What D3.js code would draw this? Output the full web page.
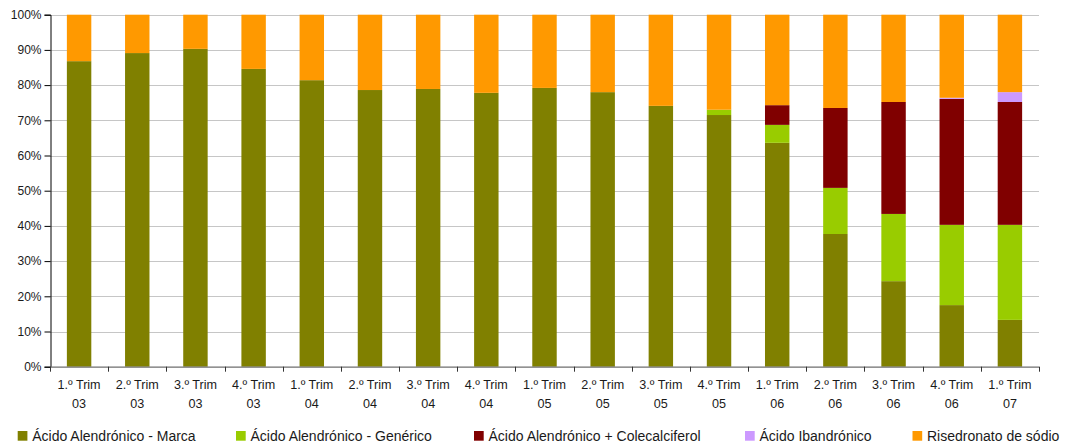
<!DOCTYPE html>
<html>
<head>
<meta charset="utf-8">
<script src="https://cdn.jsdelivr.net/npm/d3@7"></script>
<style>
  html, body { margin: 0; padding: 0; background: #fff; }
  svg { display: block; font-family: "Liberation Sans", Arial, sans-serif; }
</style>
</head>
<body>
<svg id="chart" width="1069" height="444"></svg>
<script>
// Quarter labels (two lines each)
const quarters = ["1.º Trim", "2.º Trim", "3.º Trim", "4.º Trim", "1.º Trim", "2.º Trim", "3.º Trim", "4.º Trim",
                  "1.º Trim", "2.º Trim", "3.º Trim", "4.º Trim", "1.º Trim", "2.º Trim", "3.º Trim", "4.º Trim", "1.º Trim"];
const years = ["03", "03", "03", "03", "04", "04", "04", "04", "05", "05", "05", "05", "06", "06", "06", "06", "07"];

// Market share by product (%)
const marca =     [86.8, 89.1, 90.3, 84.6, 81.4, 78.6, 78.9, 77.8, 79.2, 78.0, 74.1, 71.5, 63.6, 37.7, 24.3, 17.5, 13.3];
const generico =  [0, 0, 0, 0, 0, 0, 0, 0, 0, 0, 0, 1.5, 5.1, 13.1, 19.1, 22.8, 27.0];
const colecal =   [0, 0, 0, 0, 0, 0, 0, 0, 0, 0, 0, 0, 5.6, 22.7, 31.8, 35.8, 34.9];
const ibandro =   [0, 0, 0, 0, 0, 0, 0, 0, 0, 0, 0, 0, 0, 0, 0, 0.3, 2.8];
const risedro =   [13.2, 10.9, 9.7, 15.4, 18.6, 21.4, 21.1, 22.2, 20.8, 22.0, 25.9, 27.0, 25.7, 26.5, 24.8, 23.6, 22.0];

const seriesNames = ["Ácido Alendrónico - Marca", "Ácido Alendrónico - Genérico",
                     "Ácido Alendrónico + Colecalciferol", "Ácido Ibandrónico", "Risedronato de sódio"];
const seriesValues = [marca, generico, colecal, ibandro, risedro];
const colors = ["#808000", "#99CC00", "#800000", "#CC99FF", "#FF9900"];
const yTicks = [0, 10, 20, 30, 40, 50, 60, 70, 80, 90, 100];

const svg = d3.select("#chart");
const x0 = 50, x1 = 1039;
const yTop = 14.7, yBot = 366.7;

const rows = quarters.map((q, i) => {
  const r = { key: i };
  seriesNames.forEach((s, k) => r[s] = seriesValues[k][i]);
  return r;
});
const stacked = d3.stack().keys(seriesNames)(rows);

const x = d3.scaleBand().domain(d3.range(quarters.length)).range([x0, x1]).paddingInner(0.58).paddingOuter(0.29);
const y = d3.scaleLinear().domain([0, 100]).range([yBot, yTop]);

// Gridlines
svg.append("g").selectAll("line").data(yTicks.filter(t => t > 0)).join("line")
  .attr("x1", x0).attr("x2", x1)
  .attr("y1", d => Math.round(y(d)) + 0.5).attr("y2", d => Math.round(y(d)) + 0.5)
  .attr("stroke", "#c6c6c6").attr("stroke-width", 1);

// Bars
svg.append("g").selectAll("g").data(stacked).join("g")
  .attr("fill", (d, i) => colors[i])
  .selectAll("rect").data(d => d).join("rect")
  .attr("x", (d, i) => x(i))
  .attr("width", x.bandwidth())
  .attr("y", d => y(d[1]))
  .attr("height", d => Math.max(0, y(d[0]) - y(d[1])));

// Y axis
const yAxis = d3.axisLeft(y).tickValues(yTicks).tickFormat(d => d + "%").tickSize(6).tickPadding(3);
const gy = svg.append("g").attr("transform", `translate(${x0 + 0.5},0)`).call(yAxis);
gy.select(".domain").attr("stroke", "#000");
gy.selectAll(".tick line").attr("stroke", "#000");
gy.selectAll(".tick text").attr("font-size", 12).attr("fill", "#1a1a1a")
  .attr("font-family", "'Liberation Sans', Arial, sans-serif");

// X axis line with ticks at category boundaries
const gx = svg.append("g");
gx.append("line").attr("x1", x0).attr("x2", x1).attr("y1", yBot + 0.5).attr("y2", yBot + 0.5)
  .attr("stroke", "#6e6e6e").attr("stroke-width", 1.2);
const step = (x1 - x0) / quarters.length;
gx.selectAll("line.tk").data(d3.range(quarters.length + 1)).join("line").attr("class", "tk")
  .attr("x1", i => Math.round(x0 + i * step) + 0.5).attr("x2", i => Math.round(x0 + i * step) + 0.5)
  .attr("y1", yBot).attr("y2", yBot + 5)
  .attr("stroke", "#333");

const labels = gx.selectAll("text").data(quarters).join("text")
  .attr("text-anchor", "middle")
  .attr("font-size", 12.6).attr("fill", "#1a1a1a");
labels.append("tspan").attr("x", (d, i) => x(i) + x.bandwidth() / 2).attr("y", 388.5).text(d => d);
labels.append("tspan").attr("x", (d, i) => x(i) + x.bandwidth() / 2).attr("y", 407.5).text((d, i) => years[i]);

// Legend
const legendX = [17.7, 236, 474, 745, 912.5];
const lg = svg.append("g").selectAll("g").data(seriesNames).join("g")
  .attr("transform", (d, i) => `translate(${legendX[i]},431)`);
lg.append("rect").attr("width", 9.7).attr("height", 9.7).attr("fill", (d, i) => colors[i]);
lg.append("text").attr("x", 14.5).attr("y", 9.5).attr("font-size", 14).attr("fill", "#1a1a1a").text(d => d);
</script>
</body>
</html>
